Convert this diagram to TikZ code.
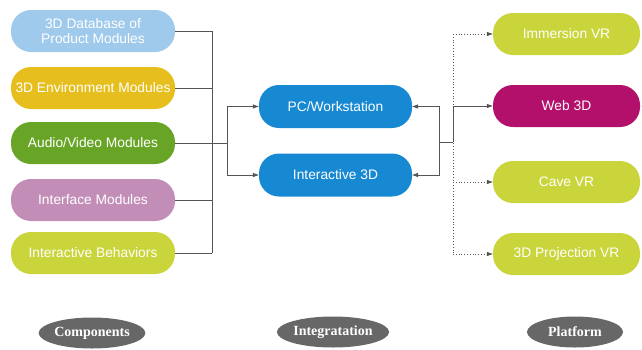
\documentclass[tikz,border=0pt]{standalone}
\usepackage{fontspec}
\newfontfamily\boxfont{Liberation Sans}
\newfontfamily\tagfont{Liberation Serif}
\usetikzlibrary{positioning,arrows.meta,shapes.geometric}
\definecolor{dbblue}{HTML}{9FCAEC}
\definecolor{envyellow}{HTML}{E6BF1E}
\definecolor{avgreen}{HTML}{68A527}
\definecolor{intfmauve}{HTML}{C28EB8}
\definecolor{limegreen}{HTML}{CAD53B}
\definecolor{pcblue}{HTML}{1788D2}
\definecolor{webmagenta}{HTML}{B2106B}
\definecolor{taggray}{HTML}{676767}
\definecolor{linkgray}{HTML}{555555}
\tikzset{
    module/.style={
        rounded corners=20pt,
        minimum width=164pt,minimum height=42pt,
        inner sep=0pt,text=white,align=center,
        font=\boxfont\fontsize{13.8}{15.5}\selectfont
    },
    hub/.style={module,fill=pcblue,minimum width=153pt,minimum height=43pt},
    target/.style={module,minimum width=147pt},
    tag/.style={ellipse,fill=taggray,
        minimum width=96pt,minimum height=31pt,inner sep=0pt,
        text=white,font=\tagfont\bfseries\fontsize{14}{16}\selectfont},
    link/.style={draw=linkgray,line width=0.8pt},
    >={Triangle[length=6pt,width=4pt]},
}

\begin{document}
\begin{tikzpicture}[x=1pt,y=-1pt]
		\useasboundingbox (0,0) rectangle (642,349);
		% components
		\node[module,fill=dbblue] (db) at (93,31) {3D Database of\\Product Modules};
		\node[module,fill=envyellow] (env) at (93,88) {3D Environment Modules};
		\node[module,fill=avgreen] (av) at (93,143) {Audio/Video Modules};
		\node[module,fill=intfmauve] (intf) at (93,200) {Interface Modules};
		\node[module,fill=limegreen] (beh) at (93,253) {Interactive Behaviors};

		% integration
		\node[hub] (pc) at (335.5,106.5) {PC/Workstation};
		\node[hub] (i3d) at (335.5,175) {Interactive 3D};

		% platform
		\foreach \y/\name/\col/\txt in {34/imm/limegreen/Immersion VR,106/web/webmagenta/Web 3D,182/cave/limegreen/Cave VR,254/proj/limegreen/3D Projection VR}
		\node[target,fill=\col] (\name) at (566.5,\y) {\txt};

		\node[tag] (comp) at (92,333) {Components};
		\node[tag] (integ) at (333,332) {Integratation};
		\node[tag] (plat) at (575,332) {Platform};

		% left bus
		\coordinate (lbus) at (212,143);
		\coordinate (lsplit) at (227,143);
		\foreach \name in {db,env,av,intf,beh}
		\draw[link] (\name.east) -- (\name.east -| lbus);
		\draw[link] (db.east -| lbus) -- (beh.east -| lbus);
		\draw[link] (lbus) -- (lsplit);
		\draw[link,->] (lsplit) |- (pc.west);
		\draw[link,->] (lsplit) |- (i3d.west);

		% right bus
		\coordinate (rsplit) at (439,142);
		\coordinate (rbus) at (453,142);
		\draw[link,->] (rsplit) |- (pc.east);
		\draw[link,->] (rsplit) |- (i3d.east);
		\draw[link] (rsplit) -- (rbus);
		\draw[link,->] (rbus) |- (web.west);
		\draw[link,dotted] (imm.west -| rbus) -- (proj.west -| rbus);
		\foreach \name in {imm,cave,proj}
		\draw[link,dotted,->] (\name.west -| rbus) -- (\name.west);
	\end{tikzpicture}
\end{document}
